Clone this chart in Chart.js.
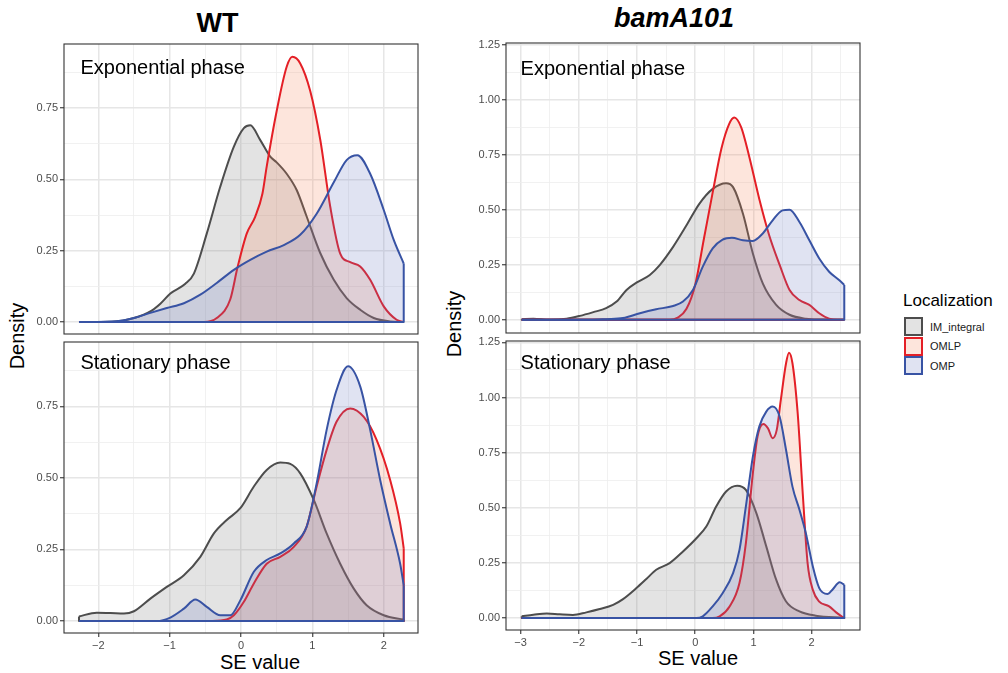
<!DOCTYPE html>
<html>
<head>
<meta charset="utf-8">
<script src="https://cdn.jsdelivr.net/npm/chart.js@4.4.1/dist/chart.umd.min.js"></script>
<style>
  body { margin: 0; background: #fff; width: 1008px; height: 673px; position: relative; overflow: hidden;
         font-family: 'Liberation Sans', Arial, Helvetica, sans-serif; }
  canvas { position: absolute; }
  .txt { position: absolute; line-height: 1; white-space: nowrap; color: #000; }
  .key { position: absolute; box-sizing: border-box; width: 19px; height: 19px; border: 2px solid; left: 904px; }
</style>
</head>
<body>
<div class="txt" style="left:217.5px;top:10.4px;font-size:27px;font-weight:bold;transform:translateX(-50%)">WT</div>
<div class="txt" style="left:674px;top:5.4px;font-size:27px;font-weight:bold;font-style:italic;transform:translateX(-50%)">bamA101</div>
<div class="txt" style="left:17.3px;top:335.5px;font-size:20px;transform:translate(-50%,-50%) rotate(-90deg)">Density</div>
<div class="txt" style="left:454px;top:323.5px;font-size:20px;transform:translate(-50%,-50%) rotate(-90deg)">Density</div>
<div class="txt" style="left:260px;top:651.6px;font-size:20px;transform:translateX(-50%)">SE value</div>
<div class="txt" style="left:698px;top:648.1px;font-size:20px;transform:translateX(-50%)">SE value</div>
<div id="legend"></div>

<script>
Chart.defaults.font.family = "'Liberation Sans', Arial, Helvetica, sans-serif";

// axis ticks
const wtXMajor = [-2, -1, 0, 1, 2];
const wtXMinor = [-1.5, -0.5, 0.5, 1.5];
const bamXMajor = [-3, -2, -1, 0, 1, 2];
const bamXMinor = [-2.5, -1.5, -0.5, 0.5, 1.5, 2.5];
const wtYMajor = [0, 0.25, 0.5, 0.75];
const wtYMinor = [0.125, 0.375, 0.625, 0.875];
const bamYMajor = [0, 0.25, 0.5, 0.75, 1, 1.25];
const bamYMinor = [0.125, 0.375, 0.625, 0.875, 1.125];

// series
const seriesNames = ['IM_integral', 'OMLP', 'OMP'];
const lineColors = ['#4d4d4d', '#e41f26', '#3853a4'];
const fillColors = ['rgba(115,115,115,0.2)', 'rgba(245,125,80,0.2)', 'rgba(100,115,190,0.2)'];

// WT - exponential phase
const wtExpImX = [-2.27, -1.8, -1.5, -1.27, -1.13, -0.99, -0.78, -0.66, -0.48, -0.29, -0.1, 0.04, 0.13, 0.27, 0.41, 0.5, 0.64, 0.78, 0.92, 1.11, 1.3, 1.48, 1.67, 1.86, 2.09, 2.28];
const wtExpImY = [0, 0.001, 0.014, 0.037, 0.064, 0.1, 0.134, 0.17, 0.31, 0.475, 0.615, 0.68, 0.69, 0.638, 0.58, 0.56, 0.52, 0.463, 0.37, 0.242, 0.148, 0.084, 0.043, 0.014, 0.002, 0];
const wtExpOmlpX = [-2.27, -0.52, -0.34, -0.15, -0.05, 0.08, 0.2, 0.3, 0.36, 0.5, 0.64, 0.72, 0.83, 0.97, 1.11, 1.25, 1.39, 1.53, 1.67, 1.81, 2.0, 2.18, 2.28];
const wtExpOmlpY = [0, 0, 0.014, 0.08, 0.19, 0.31, 0.37, 0.45, 0.545, 0.74, 0.895, 0.93, 0.907, 0.81, 0.64, 0.405, 0.24, 0.21, 0.195, 0.148, 0.055, 0.008, 0];
const wtExpOmpX = [-2.27, -1.74, -1.5, -1.27, -1.04, -0.8, -0.57, -0.34, -0.1, 0.13, 0.36, 0.6, 0.83, 1.06, 1.3, 1.48, 1.63, 1.81, 2.0, 2.14, 2.28];
const wtExpOmpY = [0, 0.003, 0.014, 0.032, 0.049, 0.066, 0.096, 0.137, 0.183, 0.218, 0.247, 0.27, 0.306, 0.38, 0.49, 0.568, 0.585, 0.52, 0.393, 0.288, 0.205];

// WT - stationary phase
const wtStatImX = [-2.27, -2.02, -1.83, -1.64, -1.5, -1.27, -1.04, -0.8, -0.57, -0.38, -0.2, -0.01, 0.18, 0.36, 0.55, 0.69, 0.83, 1.02, 1.2, 1.39, 1.58, 1.76, 2.0, 2.28];
const wtStatImY = [0.016, 0.029, 0.028, 0.026, 0.034, 0.078, 0.119, 0.16, 0.224, 0.306, 0.353, 0.394, 0.47, 0.528, 0.554, 0.549, 0.516, 0.423, 0.306, 0.2, 0.113, 0.055, 0.02, 0.005];
const wtStatOmlpX = [-2.27, -0.4, -0.2, -0.1, 0.04, 0.18, 0.36, 0.55, 0.74, 0.92, 1.06, 1.2, 1.34, 1.53, 1.72, 1.9, 2.09, 2.23, 2.28];
const wtStatOmlpY = [0, 0, 0.005, 0.02, 0.067, 0.131, 0.2, 0.224, 0.259, 0.33, 0.47, 0.598, 0.697, 0.743, 0.713, 0.633, 0.493, 0.341, 0.254];
const wtStatOmpX = [-2.27, -1.18, -0.99, -0.8, -0.64, -0.48, -0.29, -0.15, -0.01, 0.18, 0.36, 0.55, 0.74, 0.92, 1.06, 1.2, 1.34, 1.5, 1.67, 1.81, 1.95, 2.09, 2.23, 2.28];
const wtStatOmpY = [0, 0, 0.012, 0.043, 0.075, 0.049, 0.02, 0.02, 0.072, 0.172, 0.213, 0.236, 0.271, 0.33, 0.481, 0.668, 0.808, 0.89, 0.82, 0.668, 0.493, 0.341, 0.2, 0.125];

// bamA101 - exponential phase
const bamExpImX = [-2.98, -2.78, -2.5, -2.21, -1.98, -1.75, -1.53, -1.35, -1.18, -1.01, -0.78, -0.61, -0.38, -0.15, 0.07, 0.3, 0.53, 0.65, 0.82, 0.99, 1.16, 1.39, 1.62, 1.9, 2.19, 2.56];
const bamExpImY = [0.003, 0.005, 0, 0.005, 0.018, 0.035, 0.053, 0.083, 0.136, 0.169, 0.204, 0.249, 0.332, 0.43, 0.528, 0.596, 0.622, 0.604, 0.483, 0.302, 0.166, 0.068, 0.023, 0.005, 0.001, 0];
const bamExpOmlpX = [-2.98, -0.44, -0.3, -0.15, 0, 0.15, 0.3, 0.45, 0.58, 0.67, 0.79, 0.93, 1.1, 1.27, 1.45, 1.62, 1.79, 1.96, 2.13, 2.3, 2.45, 2.56];
const bamExpOmlpY = [0, 0, 0.01, 0.05, 0.16, 0.37, 0.58, 0.78, 0.89, 0.921, 0.876, 0.74, 0.55, 0.385, 0.25, 0.136, 0.09, 0.068, 0.03, 0.005, 0, 0];
const bamExpOmpX = [-2.98, -1.8, -1.53, -1.24, -0.95, -0.67, -0.38, -0.21, -0.04, 0.13, 0.3, 0.47, 0.63, 0.82, 0.99, 1.16, 1.33, 1.5, 1.62, 1.79, 1.96, 2.13, 2.3, 2.47, 2.56];
const bamExpOmpY = [0, 0, 0.003, 0.008, 0.03, 0.048, 0.063, 0.083, 0.136, 0.242, 0.325, 0.365, 0.373, 0.362, 0.359, 0.393, 0.453, 0.498, 0.501, 0.445, 0.362, 0.279, 0.219, 0.181, 0.159];

// bamA101 - stationary phase
const bamStatImX = [-2.98, -2.78, -2.55, -2.33, -2.1, -1.87, -1.64, -1.41, -1.24, -1.01, -0.84, -0.67, -0.44, -0.21, 0.02, 0.19, 0.36, 0.53, 0.72, 0.87, 1.05, 1.22, 1.39, 1.56, 1.79, 2.07, 2.56];
const bamStatImY = [0.008, 0.015, 0.021, 0.017, 0.014, 0.026, 0.041, 0.06, 0.086, 0.136, 0.177, 0.219, 0.249, 0.302, 0.362, 0.415, 0.506, 0.574, 0.6, 0.581, 0.476, 0.325, 0.174, 0.075, 0.03, 0.011, 0.002];
const bamStatOmlpX = [-2.98, 0.3, 0.42, 0.59, 0.76, 0.87, 0.99, 1.07, 1.17, 1.25, 1.33, 1.4, 1.47, 1.56, 1.61, 1.67, 1.76, 1.85, 1.93, 2.02, 2.13, 2.3, 2.42, 2.53, 2.56];
const bamStatOmlpY = [0, 0, 0.008, 0.053, 0.159, 0.34, 0.657, 0.823, 0.88, 0.86, 0.815, 0.853, 0.989, 1.155, 1.203, 1.155, 0.928, 0.551, 0.249, 0.128, 0.075, 0.053, 0.026, 0.005, 0];
const bamStatOmpX = [-2.98, 0.02, 0.13, 0.3, 0.47, 0.65, 0.76, 0.87, 0.99, 1.1, 1.22, 1.33, 1.45, 1.56, 1.67, 1.79, 1.9, 2.02, 2.13, 2.27, 2.36, 2.48, 2.56];
const bamStatOmpY = [0, 0, 0.008, 0.053, 0.113, 0.204, 0.309, 0.506, 0.732, 0.868, 0.936, 0.959, 0.913, 0.762, 0.596, 0.491, 0.385, 0.234, 0.136, 0.109, 0.13, 0.163, 0.151];

// layout of the four panels (chart area in page pixels)
const panels = [
  { area: { left: 64, top: 44, right: 418, bottom: 334 }, xMin: -2.48, xMax: 2.48, yMin: -0.042, yMax: 0.975,
    xMajor: wtXMajor, xMinor: wtXMinor, yMajor: wtYMajor, yMinor: wtYMinor, showX: false,
    label: 'Exponential phase', labelX: -2.25, labelY: 0.89,
    series: [[wtExpImX, wtExpImY], [wtExpOmlpX, wtExpOmlpY], [wtExpOmpX, wtExpOmpY]] },
  { area: { left: 64, top: 342, right: 418, bottom: 633 }, xMin: -2.48, xMax: 2.48, yMin: -0.042, yMax: 0.975,
    xMajor: wtXMajor, xMinor: wtXMinor, yMajor: wtYMajor, yMinor: wtYMinor, showX: true,
    label: 'Stationary phase', labelX: -2.25, labelY: 0.9,
    series: [[wtStatImX, wtStatImY], [wtStatOmlpX, wtStatOmlpY], [wtStatOmpX, wtStatOmpY]] },
  { area: { left: 506, top: 43, right: 860, bottom: 333 }, xMin: -3.25, xMax: 2.83, yMin: -0.06, yMax: 1.26,
    xMajor: bamXMajor, xMinor: bamXMinor, yMajor: bamYMajor, yMinor: bamYMinor, showX: false,
    label: 'Exponential phase', labelX: -3.0, labelY: 1.14,
    series: [[bamExpImX, bamExpImY], [bamExpOmlpX, bamExpOmlpY], [bamExpOmpX, bamExpOmpY]] },
  { area: { left: 506, top: 341, right: 860, bottom: 630 }, xMin: -3.25, xMax: 2.83, yMin: -0.054, yMax: 1.256,
    xMajor: bamXMajor, xMinor: bamXMinor, yMajor: bamYMajor, yMinor: bamYMinor, showX: true,
    label: 'Stationary phase', labelX: -3.0, labelY: 1.155,
    series: [[bamStatImX, bamStatImY], [bamStatOmlpX, bamStatOmlpY], [bamStatOmpX, bamStatOmpY]] }
];

// y-axis width, top/right/bottom paddings, x-axis height
const YW = 44, PT = 10, PR = 10, PB = 10, XH = 28;

const isIn = (v, list) => v !== undefined && list.some(m => Math.abs(m - v) < 1e-9);
const fmtX = v => (v < 0 ? '\u2212' + Math.abs(v) : String(v));

// closes each density polygon: baseline and vertical edges
const densityEdges = {
  id: 'densityEdges',
  afterDatasetDraw(chart, args) {
    const ds = chart.data.datasets[args.index];
    const pts = ds.data;
    const first = pts[0], last = pts[pts.length - 1];
    const { x, y } = chart.scales;
    const ctx = chart.ctx;
    ctx.save();
    ctx.strokeStyle = ds.borderColor;
    ctx.lineWidth = ds.borderWidth;
    ctx.lineJoin = 'round';
    ctx.beginPath();
    ctx.moveTo(x.getPixelForValue(last.x), y.getPixelForValue(last.y));
    ctx.lineTo(x.getPixelForValue(last.x), y.getPixelForValue(0));
    ctx.lineTo(x.getPixelForValue(first.x), y.getPixelForValue(0));
    ctx.lineTo(x.getPixelForValue(first.x), y.getPixelForValue(first.y));
    ctx.stroke();
    ctx.restore();
  }
};

// panel border and facet label
const panelFrame = {
  id: 'panelFrame',
  afterDraw(chart, args, opts) {
    const { ctx, chartArea: a, scales } = chart;
    ctx.save();
    ctx.fillStyle = '#000';
    ctx.font = "20px 'Liberation Sans', Arial, sans-serif";
    ctx.textBaseline = 'middle';
    ctx.fillText(opts.text, scales.x.getPixelForValue(opts.x), scales.y.getPixelForValue(opts.y));
    ctx.strokeStyle = '#333';
    ctx.lineWidth = 1.1;
    ctx.strokeRect(a.left, a.top, a.right - a.left, a.bottom - a.top);
    ctx.restore();
  }
};

function makePanel(p) {
  const a = p.area;
  const w = (a.right - a.left) + YW + PR;
  const h = (a.bottom - a.top) + PT + (p.showX ? XH : PB);
  const canvas = document.createElement('canvas');
  canvas.width = w;
  canvas.height = h;
  canvas.style.left = (a.left - YW) + 'px';
  canvas.style.top = (a.top - PT) + 'px';
  canvas.style.width = w + 'px';
  canvas.style.height = h + 'px';
  document.body.appendChild(canvas);

  const datasets = p.series.map((s, i) => ({
    label: seriesNames[i],
    data: s[0].map((xv, j) => ({ x: xv, y: s[1][j] })),
    borderColor: lineColors[i],
    backgroundColor: fillColors[i],
    borderWidth: 2,
    pointRadius: 0,
    fill: 'origin',
    cubicInterpolationMode: 'monotone',
    borderJoinStyle: 'round',
    order: 3 - i
  }));

  const xTicks = [...p.xMajor, ...p.xMinor].sort((m, n) => m - n);
  const yTicks = [...p.yMajor, ...p.yMinor].sort((m, n) => m - n);

  new Chart(canvas, {
    type: 'line',
    data: { datasets },
    options: {
      responsive: false,
      animation: false,
      devicePixelRatio: 1,
      events: [],
      layout: { padding: { top: PT, right: PR, left: 0, bottom: p.showX ? 0 : PB } },
      plugins: {
        legend: { display: false },
        tooltip: { enabled: false },
        panelFrame: { text: p.label, x: p.labelX, y: p.labelY }
      },
      scales: {
        x: {
          type: 'linear',
          min: p.xMin,
          max: p.xMax,
          afterBuildTicks: s => { s.ticks = xTicks.map(v => ({ value: v })); },
          afterFit: s => { s.height = p.showX ? XH : 0; },
          border: { display: false },
          grid: {
            color: c => (isIn(c.tick && c.tick.value, p.xMajor) ? '#e6e6e6' : '#eeeeee'),
            lineWidth: c => (isIn(c.tick && c.tick.value, p.xMajor) ? 1.5 : 0.8),
            drawTicks: p.showX,
            tickLength: 4,
            tickWidth: 1.1,
            tickColor: c => (isIn(c.tick && c.tick.value, p.xMajor) ? '#333' : 'rgba(0,0,0,0)')
          },
          ticks: {
            display: p.showX,
            autoSkip: false,
            maxRotation: 0,
            padding: 2,
            color: '#4d4d4d',
            font: { size: 11 },
            callback: v => (isIn(v, p.xMajor) ? fmtX(v) : '')
          }
        },
        y: {
          type: 'linear',
          min: p.yMin,
          max: p.yMax,
          afterBuildTicks: s => { s.ticks = yTicks.map(v => ({ value: v })); },
          afterFit: s => { s.width = YW; },
          border: { display: false },
          grid: {
            color: c => (isIn(c.tick && c.tick.value, p.yMajor) ? '#e6e6e6' : '#eeeeee'),
            lineWidth: c => (isIn(c.tick && c.tick.value, p.yMajor) ? 1.5 : 0.8),
            tickLength: 4,
            tickWidth: 1.1,
            tickColor: c => (isIn(c.tick && c.tick.value, p.yMajor) ? '#333' : 'rgba(0,0,0,0)')
          },
          ticks: {
            autoSkip: false,
            padding: 2,
            color: '#4d4d4d',
            font: { size: 11 },
            callback: v => (isIn(v, p.yMajor) ? v.toFixed(2) : '')
          }
        }
      }
    },
    plugins: [densityEdges, panelFrame]
  });
}

panels.forEach(makePanel);

// legend
const legend = document.getElementById('legend');
let html = '<div class="txt" style="left:903px;top:291.6px;font-size:17px">Localization</div>';
seriesNames.forEach((name, i) => {
  const top = 317 + i * 19.6;
  html += `<div class="key" style="top:${top}px;border-color:${lineColors[i]};background:${fillColors[i]}"></div>`;
  html += `<div class="txt" style="left:930px;top:${top + 4.5}px;font-size:11px;color:#1a1a1a">${name}</div>`;
});
legend.innerHTML = html;
</script>
</body>
</html>
